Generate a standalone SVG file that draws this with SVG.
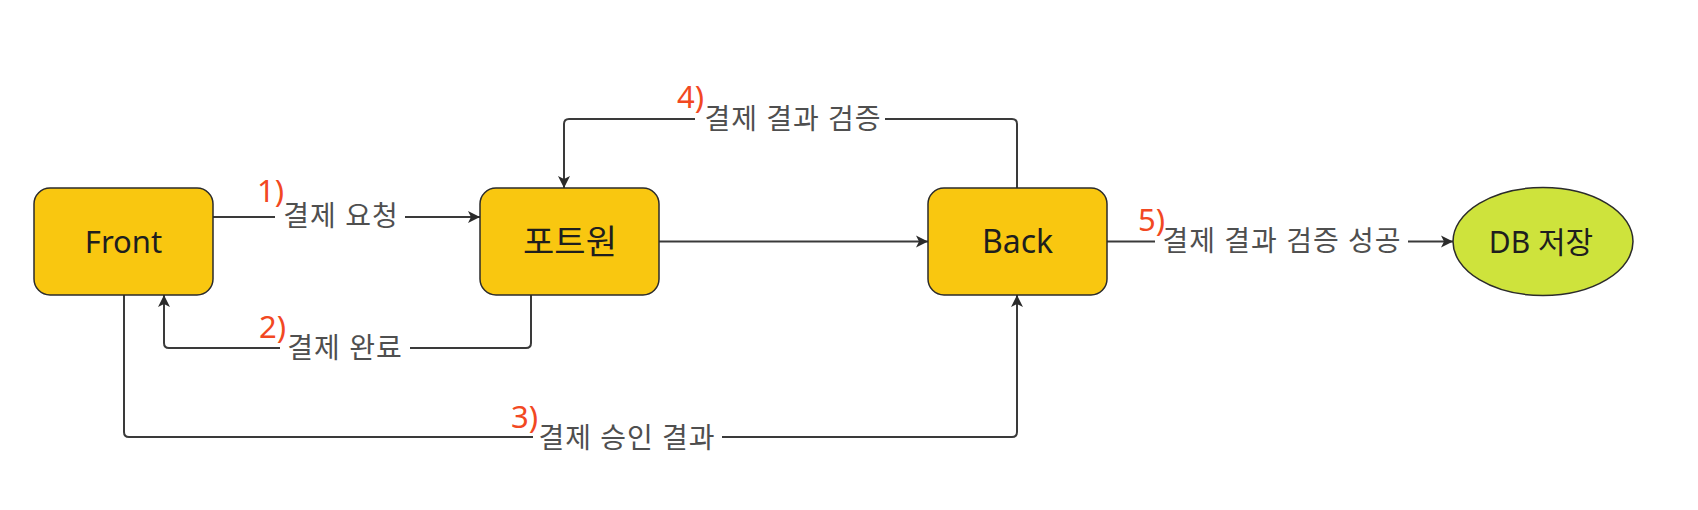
<svg xmlns="http://www.w3.org/2000/svg" width="1698" height="510" viewBox="0 0 1698 510">
  <style>
    .box { fill: #F9C710; stroke: #2b2b2b; stroke-width: 1.5; }
    .ell { fill: #CEE33C; stroke: #2b2b2b; stroke-width: 1.5; }
    .ntext { font-family: "Noto Sans", "Noto Sans CJK KR", sans-serif; font-size: 32px; fill: #1e1e1e; text-anchor: middle; }
    .conn { fill: none; stroke: #3a3a3a; stroke-width: 2; }
    .lbl { font-family: "Noto Sans", "Noto Sans CJK KR", sans-serif; font-size: 28px; letter-spacing: 1px; fill: #4f4f4f; text-anchor: middle; }
    .num { font-family: "Noto Sans", "Noto Sans CJK KR", sans-serif; font-size: 31px; fill: #F24822; text-anchor: end; }
  </style>
  <defs>
    <marker id="arrow" viewBox="0 0 14 14" refX="13" refY="7" markerWidth="14" markerHeight="14" markerUnits="userSpaceOnUse" orient="auto">
      <path d="M1,1 L13,7 L1,13 L4,7 Z" fill="#2b2b2b"/>
    </marker>
  </defs>
  <rect width="1698" height="510" fill="#ffffff"/>

  <g id="connectors">
    <!-- 1) Front -> Portone -->
    <path class="conn" d="M213,217 H275"/>
    <path class="conn" d="M405,217 H480" marker-end="url(#arrow)"/>
    <!-- 2) Portone -> Front -->
    <path class="conn" d="M531,295 V343 Q531,348 526,348 H410"/>
    <path class="conn" d="M280,348 H169 Q164,348 164,343 V295" marker-end="url(#arrow)"/>
    <!-- 3) Front -> Back -->
    <path class="conn" d="M124,295 V432 Q124,437 129,437 H533"/>
    <path class="conn" d="M722,437 H1012 Q1017,437 1017,432 V295" marker-end="url(#arrow)"/>
    <!-- 4) Back -> Portone -->
    <path class="conn" d="M1017,188 V124 Q1017,119 1012,119 H885"/>
    <path class="conn" d="M695,119 H569 Q564,119 564,124 V188" marker-end="url(#arrow)"/>
    <!-- Portone -> Back -->
    <path class="conn" d="M659,241.5 H928" marker-end="url(#arrow)"/>
    <!-- 5) Back -> DB -->
    <path class="conn" d="M1107,241.5 H1155"/>
    <path class="conn" d="M1408,241.5 H1453" marker-end="url(#arrow)"/>

    <text class="num" x="284" y="202">1)</text>
    <text class="lbl" x="341" y="226">결제 요청</text>
    <text class="num" x="286" y="338">2)</text>
    <text class="lbl" x="345" y="358">결제 완료</text>
    <text class="num" x="538" y="428">3)</text>
    <text class="lbl" x="627" y="448">결제 승인 결과</text>
    <text class="num" x="704" y="108">4)</text>
    <text class="lbl" x="793" y="129">결제 결과 검증</text>
    <text class="num" x="1165" y="231">5)</text>
    <text class="lbl" x="1282" y="251">결제 결과 검증 성공</text>
  </g>

  <g id="node-front">
    <rect class="box" x="34" y="188" width="179" height="107" rx="16"/>
    <text class="ntext" x="123.5" y="253" style="font-size:31px">Front</text>
  </g>
  <g id="node-portone">
    <rect class="box" x="480" y="188" width="179" height="107" rx="16"/>
    <text class="ntext" x="570" y="254" style="font-size:34px">포트원</text>
  </g>
  <g id="node-back">
    <rect class="box" x="928" y="188" width="179" height="107" rx="16"/>
    <text class="ntext" x="1017.5" y="253">Back</text>
  </g>
  <g id="node-db">
    <ellipse class="ell" cx="1543" cy="241.5" rx="90" ry="54"/>
    <text class="ntext" x="1541" y="253" style="font-size:30px">DB 저장</text>
  </g>
</svg>
